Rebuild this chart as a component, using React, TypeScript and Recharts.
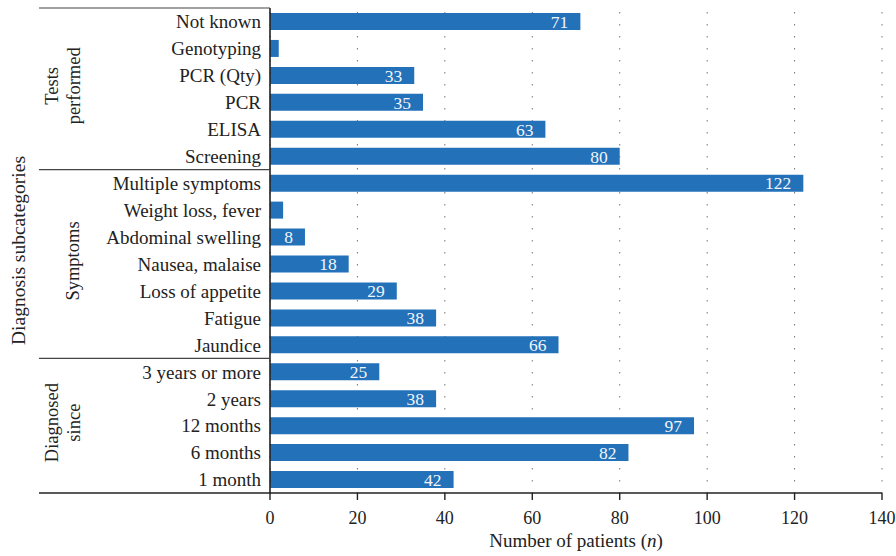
import { Bar, BarChart, CartesianGrid, LabelList, XAxis, YAxis } from "recharts";

// categories, top to bottom
const testCategories = ["Not known", "Genotyping", "PCR (Qty)", "PCR", "ELISA", "Screening"];
const testValues = [71, 2, 33, 35, 63, 80];

const symptomCategories = [
  "Multiple symptoms",
  "Weight loss, fever",
  "Abdominal swelling",
  "Nausea, malaise",
  "Loss of appetite",
  "Fatigue",
  "Jaundice",
];
const symptomValues = [122, 3, 8, 18, 29, 38, 66];

const sinceCategories = ["3 years or more", "2 years", "12 months", "6 months", "1 month"];
const sinceValues = [25, 38, 97, 82, 42];

const groupLabels = [["Tests", "performed"], ["Symptoms"], ["Diagnosed", "since"]];
const xTicks = [0, 20, 40, 60, 80, 100, 120, 140];

const groups = [
  { cats: testCategories, vals: testValues, label: groupLabels[0] },
  { cats: symptomCategories, vals: symptomValues, label: groupLabels[1] },
  { cats: sinceCategories, vals: sinceValues, label: groupLabels[2] },
];

const data = groups.flatMap((g, gi) =>
  g.cats.map((name, i) => ({ name, value: g.vals[i], group: gi, pos: i, size: g.cats.length }))
);

const W = 896;
const H = 556;
const MARGIN = { top: 8, right: 14, bottom: 0, left: 0 };
const Y_WIDTH = 270;
const X_HEIGHT = 63;
const PLOT_H = H - MARGIN.top - MARGIN.bottom - X_HEIGHT;
const BAND = PLOT_H / data.length;
const FONT = "'Liberation Serif', 'Times New Roman', serif";
const INK = "#222";
const BLUE = "#2371b9";
const LINE_LEFT = 39;

function CategoryTick(props: any) {
  const { y, payload } = props;
  const row = data.find((d) => d.name === payload.value);
  const axisX = Y_WIDTH;
  const parts: any[] = [];
  if (row && row.pos === 0) {
    const top = y - BAND / 2;
    parts.push(
      <line key="sep" x1={LINE_LEFT} x2={axisX} y1={top} y2={top} stroke="#444" strokeWidth={1.2} />
    );
    const cy = y + ((row.size - 1) / 2) * BAND - 3;
    const lines = groups[row.group].label;
    const xs = lines.length === 2 ? [58, 80] : [79];
    lines.forEach((t, i) =>
      parts.push(
        <text
          key={"g" + i}
          x={xs[i]}
          y={cy}
          transform={`rotate(-90, ${xs[i]}, ${cy})`}
          textAnchor="middle"
          fontFamily={FONT}
          fontSize={18.5}
          fill={INK}
        >
          {t}
        </text>
      )
    );
  }
  if (row && row.group === groups.length - 1 && row.pos === row.size - 1) {
    const bottom = y + BAND / 2;
    parts.push(
      <line key="bot" x1={LINE_LEFT} x2={axisX} y1={bottom} y2={bottom} stroke={INK} strokeWidth={1.4} />
    );
  }
  return (
    <g>
      {parts}
      <text x={axisX - 9} y={y} dy="0.36em" textAnchor="end" fontFamily={FONT} fontSize={19} fill={INK}>
        {payload.value}
      </text>
    </g>
  );
}

function ValueLabel(props: any) {
  const { x, y, width, height, value } = props;
  if (value < 5) return null;
  return (
    <text
      x={x + width - 12}
      y={y + height / 2}
      dy="0.36em"
      textAnchor="end"
      fontFamily={FONT}
      fontSize={17.5}
      fill="#f2f5f9"
    >
      {value}
    </text>
  );
}

function XTitle(props: any) {
  const vb = props.viewBox;
  return (
    <text x={vb.x + vb.width / 2} y={vb.y + 54} textAnchor="middle" fontFamily={FONT} fontSize={19} fill={INK}>
      Number of patients (<tspan fontStyle="italic">n</tspan>)
    </text>
  );
}

function YTitle(props: any) {
  const vb = props.viewBox;
  const cx = 25;
  const cy = vb.y + vb.height / 2;
  return (
    <text
      x={cx}
      y={cy}
      transform={`rotate(-90, ${cx}, ${cy})`}
      textAnchor="middle"
      fontFamily={FONT}
      fontSize={19.5}
      fill={INK}
    >
      Diagnosis subcategories
    </text>
  );
}

export default function App() {
  return (
    <div style={{ position: "absolute", left: 0, top: 0, background: "#fff" }}>
      <BarChart width={W} height={H} data={data} layout="vertical" margin={MARGIN}>
        <CartesianGrid
          horizontal={false}
          vertical={true}
          stroke="#777"
          strokeDasharray="0 4 1.5 6.5"
        />
        <XAxis
          type="number"
          domain={[0, 140]}
          ticks={xTicks}
          height={X_HEIGHT}
          axisLine={{ stroke: INK, strokeWidth: 1.4 }}
          tickLine={{ stroke: INK, strokeWidth: 1.4 }}
          tickSize={7}
          tickMargin={11}
          tick={{ fill: INK, fontFamily: FONT, fontSize: 18 }}
          label={<XTitle />}
        />
        <YAxis
          type="category"
          dataKey="name"
          width={Y_WIDTH}
          axisLine={{ stroke: INK, strokeWidth: 1.6 }}
          tickLine={false}
          interval={0}
          tick={<CategoryTick />}
          label={<YTitle />}
        />
        <Bar dataKey="value" fill={BLUE} barSize={17} isAnimationActive={false}>
          <LabelList dataKey="value" content={<ValueLabel />} />
        </Bar>
      </BarChart>
    </div>
  );
}
